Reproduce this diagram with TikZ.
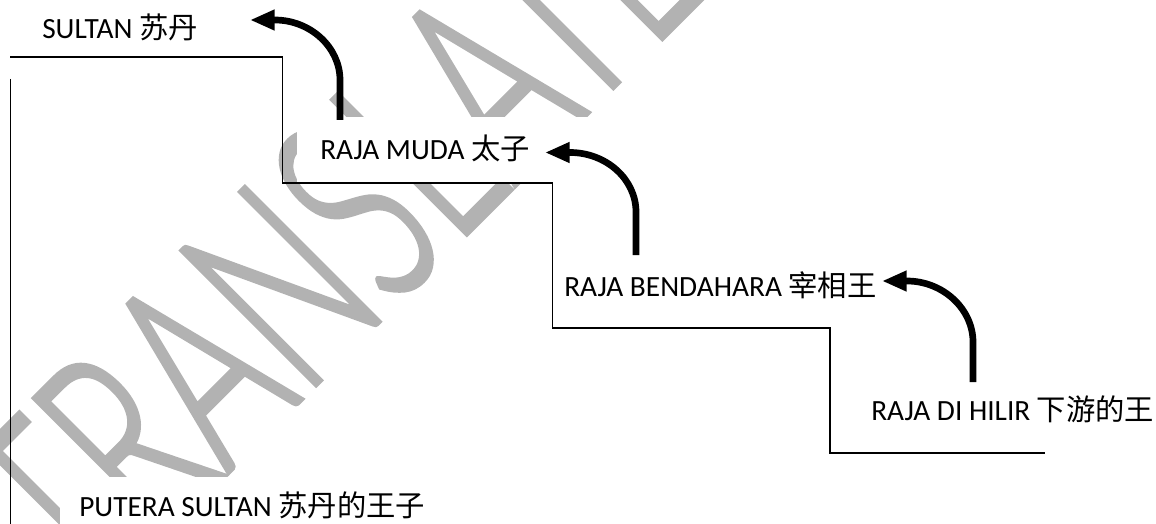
\documentclass[tikz,border=0pt]{standalone}
\usepackage{fontspec}
\setmainfont{Carlito}
\newfontfamily\cjk{Noto Sans CJK SC}
\newfontfamily\wmfont{Lato Light}[FakeBold=2.25]
\usetikzlibrary{arrows.meta}
\definecolor{wmgray}{RGB}{178,178,178}
\begin{document}
\begin{tikzpicture}[x=0.75pt,y=-0.75pt,
  lbl/.style={inner sep=0pt, anchor=base west, font=\fontsize{22pt}{26pt}\selectfont},
  stair/.style={line width=1.2pt, black},
  uparrow/.style={line width=5pt, -{Triangle[length=18.5pt,width=14.5pt]}},
  maskbox/.style={fill=white, draw=none}]
\useasboundingbox (0,0) rectangle (1156,524);
% watermark
\node[text=wmgray, inner sep=0pt, anchor=base west, rotate=45] (wm) at (87.5,612.5)
  {\scalebox{0.62}[1]{\wmfont\fontsize{200pt}{200pt}\selectfont TRANSLATE}};
% white text boxes over the watermark
\fill[maskbox] (297,117) rectangle (612,183);
\fill[maskbox] (60,477) rectangle (460,524);
% stairs
\draw[stair] (10,57.3) -- (282.5,57.3) -- (282.5,183.3) -- (552.5,183.3) -- (552.5,328) -- (830,328) -- (830,453) -- (1045,453);
\draw[stair] (10.3,79) -- (10.3,524);
% labels
\node[lbl] (sultan) at (42,38.5) {SULTAN {\cjk 苏丹}};
\node[lbl] (muda) at (320,159.5) {RAJA MUDA {\cjk 太子}};
\node[lbl] (bendahara) at (564,296) {RAJA BENDAHARA {\cjk 宰相王}};
\node[lbl] (hilir) at (871,420.7) {RAJA DI HILIR {\cjk 下游的王}};
\node[lbl] (putera) at (79,516) {PUTERA SULTAN {\cjk 苏丹的王子}};
% arrows
\coordinate (a1s) at (340,120); \coordinate (a1t) at (250,20);
\coordinate (a2s) at (636,255); \coordinate (a2t) at (545,152.5);
\coordinate (a3s) at (973,382); \coordinate (a3t) at (882,281);
\draw[uparrow] (a1s) -- (340,80) .. controls (340,47) and (310,20) .. (275,20) -- (a1t);
\draw[uparrow] (a2s) -- (636,212) .. controls (636,179) and (606,152.5) .. (570,152.5) -- (a2t);
\draw[uparrow] (a3s) -- (973,342) .. controls (973,309) and (943,281) .. (907,281) -- (a3t);
\end{tikzpicture}
\end{document}
